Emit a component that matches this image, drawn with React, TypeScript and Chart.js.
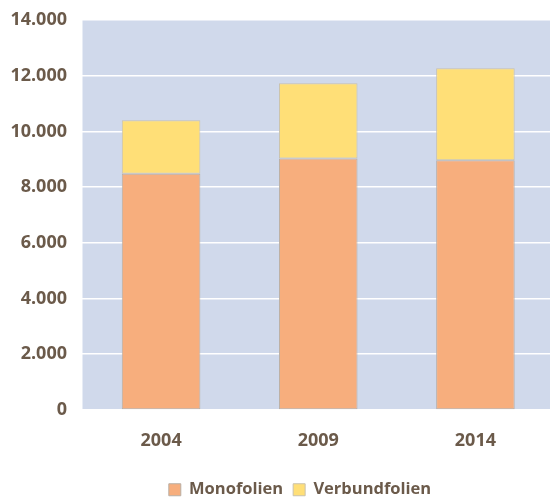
import React, { useEffect, useRef } from "react";
import { Chart, registerables } from "chart.js";

Chart.register(...registerables);

const categories = ["2004", "2009", "2014"];
const monofolien = [8480, 9030, 8960];
const verbundfolien = [1920, 2700, 3310];
const yMax = 14000;
const yStep = 2000;

const textColor = "#6B5A4A";
const fontFamily = "'Open Sans', sans-serif";

export default function App() {
  const ref = useRef<HTMLCanvasElement>(null);
  useEffect(() => {
    if (!ref.current) return;
    const chart = new Chart(ref.current, {
      type: "bar",
      data: {
        labels: categories,
        datasets: [
          {
            label: "Monofolien",
            data: monofolien,
            backgroundColor: "#F7AE7D",
            borderColor: "#B9AFA6",
            borderWidth: 1,
            borderSkipped: false,
          },
          {
            label: "Verbundfolien",
            data: verbundfolien,
            backgroundColor: "#FFDF77",
            borderColor: "#C9C2AE",
            borderWidth: 1,
            borderSkipped: false,
          },
        ],
      },
      options: {
        animation: false,
        responsive: false,
        devicePixelRatio: 1,
        layout: { padding: { left: 0, right: 0, top: 20, bottom: -11 } },
        datasets: { bar: { categoryPercentage: 1, barPercentage: 0.5 } },
        plugins: {
          tooltip: { enabled: false },
          legend: {
            position: "bottom",
            labels: {
              color: textColor,
              font: { family: fontFamily, size: 16.5, weight: "bold" },
              boxWidth: 12,
              boxHeight: 12,
              padding: 10,
            },
          },
        },
        scales: {
          x: {
            stacked: true,
            grid: { display: false, drawTicks: false },
            border: { display: false },
            ticks: {
              color: textColor,
              font: { family: fontFamily, size: 18, weight: "bold" },
              padding: 20,
            },
          },
          y: {
            stacked: true,
            min: 0,
            max: yMax,
            afterFit: (scale: any) => {
              scale.width = 82.5;
            },
            grid: { color: "#FFFFFF", lineWidth: 1.5, drawTicks: true, tickLength: 15.5 },
            border: { display: false },
            ticks: {
              stepSize: yStep,
              color: textColor,
              font: { family: fontFamily, size: 18, weight: "bold" },
              padding: 0,
              callback: (v: any) => Number(v).toLocaleString("de-DE"),
            },
          },
        },
      },
      plugins: [
        {
          id: "plotBg",
          beforeDraw(c: any) {
            const { ctx, chartArea: a } = c;
            ctx.save();
            ctx.fillStyle = "#D0D9EB";
            ctx.fillRect(a.left, a.top, a.right - a.left, a.bottom - a.top);
            ctx.restore();
          },
        },
        {
          id: "legendShift",
          afterLayout(c: any) {
            if (c.legend) {
              c.legend.left += 23;
              c.legend.right += 23;
            }
          },
        },
      ],
    });
    return () => chart.destroy();
  }, []);
  return (
    <div style={{ position: "fixed", left: 0, top: 0, width: 550, height: 497, overflow: "hidden", background: "#fff" }}>
      <canvas ref={ref} width={554} height={497} style={{ display: "block", width: 554, height: 497 }} />
    </div>
  );
}
